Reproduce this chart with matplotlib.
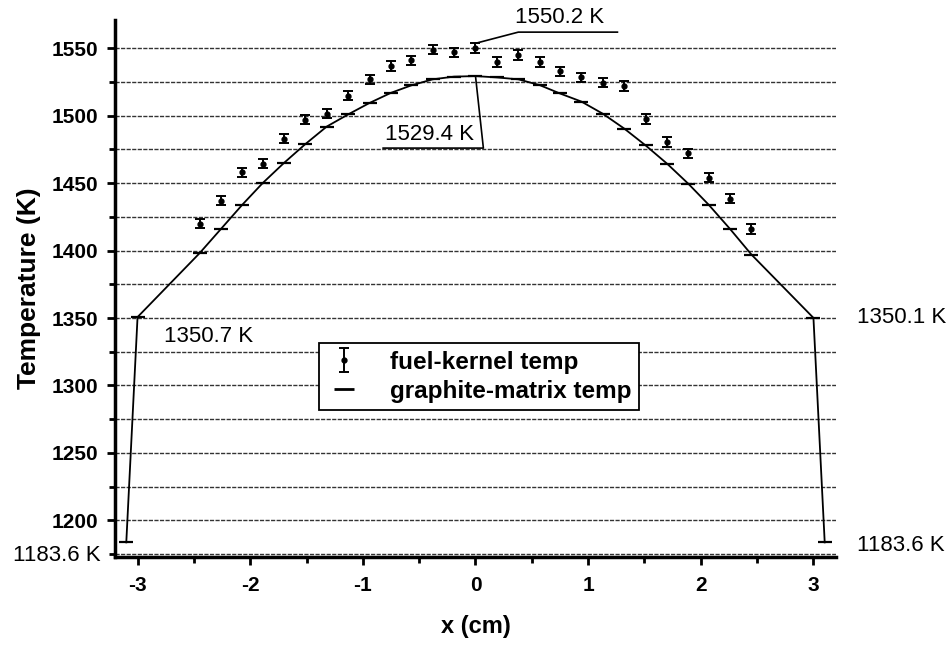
import numpy as np
import matplotlib
matplotlib.use("Agg")
import matplotlib.pyplot as plt
from matplotlib.lines import Line2D

plt.rcParams['font.family'] = ['Liberation Sans', 'DejaVu Sans']

# fuel-kernel temperature (K) with error bars
fuel_x = [-2.45, -2.26, -2.07, -1.89, -1.70, -1.51, -1.32, -1.13, -0.94,
          -0.75, -0.57, -0.38, -0.19, 0.0, 0.19, 0.38, 0.57, 0.75,
          0.94, 1.13, 1.32, 1.51, 1.70, 1.89, 2.07, 2.26, 2.45]
fuel_t = [1420, 1437, 1458, 1464.5, 1483, 1497, 1501.5, 1515, 1527, 1537,
          1541, 1549, 1547, 1550.2, 1540, 1545, 1540, 1533, 1528.5,
          1524.5, 1522, 1497.5, 1480.5, 1472, 1454, 1438.5, 1416]
fuel_err = 3.5

# graphite-matrix temperature (K)
graph_x = [-3.1, -3.0] + fuel_x + [3.0, 3.1]
graph_t = [1183.6, 1350.7,
           1398, 1416, 1434, 1450, 1465, 1479, 1492, 1501, 1509.5, 1517,
           1522.5, 1527, 1529, 1529.4, 1528.4, 1527, 1522.7, 1516.5,
           1510.5, 1501.5, 1490.5, 1478, 1464.5, 1449.5, 1434, 1416, 1397,
           1350.1, 1183.6]

fig = plt.figure(figsize=(9.49, 6.47), dpi=100)
ax = fig.add_axes([0.1212, 0.1396, 0.7597, 0.8295])

ax.set_xlim(-3.2, 3.2)
ax.set_ylim(1173, 1571)
ax.set_yticks(np.arange(1200, 1551, 50))
ax.set_yticks(np.arange(1175, 1551, 50), minor=True)
ax.set_xticks(np.arange(-3, 4, 1))
ax.set_xticks(np.arange(-2.5, 3.0, 1.0), minor=True)
ax.set_xticklabels(['-3', '-2', '-1', '0', '1', '2', '3'])

ax.grid(True, axis='y', which='both', color='0.2', lw=1.0,
        linestyle=(0, (3, 1)))
ax.set_axisbelow(True)

for s in ['top', 'right']:
    ax.spines[s].set_visible(False)
for s in ['left', 'bottom']:
    ax.spines[s].set_linewidth(2.5)

ax.tick_params(which='major', direction='out', length=6, width=2,
               labelsize=15, pad=6)
ax.tick_params(which='minor', direction='out', length=4, width=2)
ax.tick_params(axis='x', which='major', pad=8)
for lab in ax.get_xticklabels() + ax.get_yticklabels():
    lab.set_fontweight('bold')

ax.plot(graph_x, graph_t, color='black', lw=1.3, marker='_',
        markersize=10, markeredgewidth=1.6, zorder=3)
h_fuel = ax.errorbar(fuel_x, fuel_t, yerr=fuel_err, fmt='o', color='black',
                     markersize=3.5, elinewidth=1.4, capsize=3.5,
                     capthick=1.4, zorder=4)

ax.set_xlabel('x (cm)', fontsize=17, fontweight='bold', labelpad=14)
ax.set_ylabel('Temperature (K)', fontsize=19, fontweight='bold', labelpad=8)

# annotations
i_f = int(np.argmax(fuel_t))
px, py = fuel_x[i_f], fuel_t[i_f] + fuel_err
ax.plot([px, px + 0.38, px + 1.26], [py, 1562, 1562], color='black',
        lw=1.2, clip_on=False)
ax.text(px + 0.75, 1565, '%.1f K' % fuel_t[i_f], fontsize=16,
        ha='center', va='bottom', clip_on=False)

i_g = int(np.argmax(graph_t))
gx, gy = graph_x[i_g], graph_t[i_g]
ax.plot([gx, gx + 0.07, gx - 0.82], [gy, 1476, 1476], color='black', lw=1.2)
ax.text(gx - 0.41, 1478, '%.1f K' % gy, fontsize=16, ha='center',
        va='bottom')

ax.text(-2.37, 1336, '%.1f K' % graph_t[1], fontsize=16, ha='center',
        va='center')
ax.text(3.39, graph_t[-2], '%.1f K' % graph_t[-2], fontsize=16,
        ha='left', va='center', clip_on=False)
ax.text(3.39, 1181.6, '%.1f K' % graph_t[-1], fontsize=16, ha='left',
        va='center', clip_on=False)
ax.text(-3.33, 1174, '%.1f K' % graph_t[0], fontsize=16, ha='right',
        va='center', clip_on=False)

h_graph = Line2D([], [], color='black', marker='_', linestyle='none',
                 markersize=14, markeredgewidth=2)
leg = ax.legend([h_fuel, h_graph], ['fuel-kernel temp', 'graphite-matrix temp'],
                loc='upper left', bbox_to_anchor=(0.2834, 0.3976),
                borderaxespad=0, fancybox=False, framealpha=1,
                edgecolor='black', prop={'size': 17.5, 'weight': 'bold'},
                handlelength=1.4, handletextpad=1.2, labelspacing=0.25,
                borderpad=0.3)
leg.get_frame().set_linewidth(1.3)

fig.savefig('out.png', dpi=100)
